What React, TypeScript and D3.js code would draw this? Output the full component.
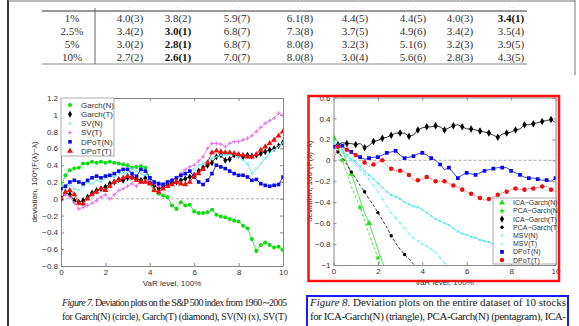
import React, { useRef, useEffect } from "react";
import * as d3 from "d3";

const W = 579;
const H = 326;

// ---- table at the top of the page ----
const tableRows = ["1%", "2.5%", "5%", "10%"];
const tableCells = [
  ["4.0(3)", "3.8(2)", "5.9(7)", "6.1(8)", "4.4(5)", "4.4(5)", "4.0(3)", "3.4(1)"],
  ["3.4(2)", "3.0(1)", "6.8(7)", "7.3(8)", "3.7(5)", "4.9(6)", "3.4(2)", "3.5(4)"],
  ["3.0(2)", "2.8(1)", "6.8(7)", "8.0(8)", "3.2(3)", "5.1(6)", "3.2(3)", "3.9(5)"],
  ["2.7(2)", "2.6(1)", "7.0(7)", "8.0(8)", "3.0(4)", "5.6(6)", "2.8(3)", "4.3(5)"],
];
const tableBold = [[7], [1], [1], [1]];

// ---- Figure 7 (S&P 500), values every 0.2 of VaR level ----
const garchN = [0.15, 0.28, 0.34, 0.36, 0.37, 0.42, 0.42, 0.44, 0.43, 0.44, 0.43, 0.44, 0.43, 0.42, 0.41, 0.4, 0.37, 0.38, 0.39, 0.37, 0.25, 0.1, 0.06, 0.04, 0.02, -0.08, -0.12, -0.04, -0.08, -0.07, -0.15, -0.17, -0.17, -0.16, -0.13, -0.19, -0.21, -0.22, -0.24, -0.26, -0.27, -0.32, -0.35, -0.48, -0.62, -0.55, -0.52, -0.55, -0.58, -0.57, -0.61];
const garchT = [0.0, 0.07, 0.05, -0.02, -0.04, -0.02, 0.02, 0.07, 0.1, 0.12, 0.14, 0.18, 0.2, 0.23, 0.22, 0.25, 0.26, 0.24, 0.22, 0.25, 0.2, 0.16, 0.12, 0.14, 0.17, 0.19, 0.2, 0.22, 0.24, 0.26, 0.28, 0.33, 0.37, 0.4, 0.43, 0.5, 0.52, 0.46, 0.47, 0.52, 0.52, 0.5, 0.52, 0.51, 0.52, 0.54, 0.56, 0.58, 0.6, 0.63, 0.67];
const svN = [0.15, 0.12, 0.17, 0.12, 0.1, 0.15, 0.2, 0.18, 0.22, 0.2, 0.25, 0.27, 0.26, 0.3, 0.31, 0.3, 0.35, 0.33, 0.3, 0.28, 0.25, 0.2, 0.2, 0.18, 0.2, 0.22, 0.25, 0.26, 0.3, 0.32, 0.35, 0.4, 0.42, 0.45, 0.48, 0.5, 0.52, 0.52, 0.53, 0.53, 0.5, 0.46, 0.42, 0.3, 0.36, 0.42, 0.48, 0.54, 0.58, 0.62, 0.67];
const svT = [0.0, 0.05, 0.02, -0.05, -0.12, -0.1, -0.08, -0.05, -0.02, 0.02, 0.05, 0.0, 0.05, 0.1, 0.12, 0.15, 0.18, 0.15, 0.2, 0.2, 0.22, 0.18, 0.15, 0.18, 0.2, 0.22, 0.25, 0.3, 0.35, 0.38, 0.4, 0.45, 0.5, 0.6, 0.66, 0.66, 0.65, 0.62, 0.66, 0.68, 0.68, 0.7, 0.72, 0.75, 0.8, 0.85, 0.9, 0.93, 0.96, 1.02, 0.99];
const dpotN = [0.12, 0.15, 0.2, 0.22, 0.2, 0.18, 0.22, 0.25, 0.27, 0.25, 0.27, 0.28, 0.3, 0.33, 0.35, 0.35, 0.3, 0.27, 0.35, 0.33, 0.25, 0.2, 0.18, 0.17, 0.2, 0.22, 0.25, 0.28, 0.3, 0.33, 0.26, 0.2, 0.17, 0.22, 0.3, 0.4, 0.38, 0.36, 0.33, 0.3, 0.28, 0.28, 0.26, 0.22, 0.23, 0.18, 0.16, 0.15, 0.16, 0.17, 0.26];
const dpotT = [0.0, 0.08, 0.1, 0.05, -0.05, -0.06, 0.0, 0.05, 0.08, 0.12, 0.1, 0.15, 0.2, 0.22, 0.25, 0.27, 0.25, 0.22, 0.2, 0.2, 0.18, 0.1, 0.08, 0.12, 0.15, 0.17, 0.2, 0.18, 0.17, 0.2, 0.27, 0.3, 0.35, 0.43, 0.55, 0.57, 0.56, 0.55, 0.55, 0.54, 0.53, 0.52, 0.5, 0.5, 0.53, 0.58, 0.62, 0.66, 0.7, 0.75, 0.8];

// ---- Figure 8 (10 stocks) ----
const icaGarchN = [0.22, 0.18, 0.1, -0.02, -0.13, -0.25, -0.38, -0.5, -0.6, -0.72, -0.85, -0.97, -1.08];
const pcaGarchN = [0.2, 0.12, 0.0, -0.12, -0.25, -0.35, -0.45, -0.58, -0.7, -0.82, -0.93, -1.05];
const icaGarchT = [0.13, 0.15, 0.17, 0.16, 0.16, 0.15, 0.16, 0.12, 0.14, 0.18, 0.19, 0.21, 0.22, 0.24, 0.26, 0.26, 0.26, 0.23, 0.24, 0.29, 0.31, 0.32, 0.32, 0.33, 0.32, 0.29, 0.31, 0.33, 0.34, 0.32, 0.3, 0.3, 0.29, 0.28, 0.27, 0.26, 0.24, 0.22, 0.25, 0.26, 0.27, 0.29, 0.3, 0.34, 0.34, 0.35, 0.36, 0.37, 0.38, 0.39, 0.36];
const pcaGarchT = [0.13, 0.08, 0.03, -0.04, -0.11, -0.17, -0.24, -0.3, -0.37, -0.43, -0.5, -0.57, -0.64, -0.72, -0.79, -0.85, -0.9, -0.94, -0.99, -1.04];
const msvN = [0.18, 0.15, 0.1, 0.05, 0.01, -0.02, -0.06, -0.1, -0.14, -0.18, -0.22, -0.26, -0.3, -0.33, -0.35, -0.37, -0.4, -0.42, -0.44, -0.45, -0.47, -0.5, -0.53, -0.56, -0.58, -0.6, -0.62, -0.65, -0.68, -0.7, -0.71, -0.73, -0.74, -0.76, -0.77, -0.78, -0.8, -0.81, -0.82, -0.84, -0.85, -0.86, -0.87, -0.89, -0.91, -0.92, -0.94, -0.95, -0.97, -0.98, -0.99];
const msvT = [0.17, 0.12, 0.08, 0.04, 0.0, -0.04, -0.09, -0.13, -0.18, -0.24, -0.3, -0.37, -0.44, -0.5, -0.55, -0.6, -0.65, -0.7, -0.74, -0.77, -0.8, -0.82, -0.85, -0.88, -0.93, -0.98, -1.02];
const dpotN8 = [0.13, 0.15, 0.14, 0.1, 0.08, 0.05, 0.03, 0.01, 0.02, 0.03, 0.03, 0.05, 0.07, 0.08, 0.09, 0.05, 0.02, 0.03, 0.04, 0.06, 0.07, 0.05, 0.02, 0.0, -0.04, -0.09, -0.07, -0.12, -0.17, -0.14, -0.12, -0.13, -0.14, -0.12, -0.1, -0.09, -0.08, -0.07, -0.07, -0.07, -0.1, -0.12, -0.14, -0.16, -0.17, -0.17, -0.18, -0.19, -0.19, -0.2, -0.17];
const dpotT8 = [0.0, 0.13, 0.12, 0.1, 0.08, 0.05, 0.02, -0.02, -0.06, -0.04, -0.02, 0.0, -0.05, -0.08, -0.1, -0.1, -0.11, -0.14, -0.19, -0.19, -0.18, -0.16, -0.18, -0.2, -0.2, -0.2, -0.22, -0.24, -0.26, -0.28, -0.3, -0.32, -0.34, -0.36, -0.38, -0.37, -0.35, -0.33, -0.31, -0.3, -0.28, -0.27, -0.28, -0.28, -0.27, -0.27, -0.26, -0.25, -0.25, -0.28, -0.3];

const STEP = 0.2;
const xTickValues = [0, 2, 4, 6, 8, 10];

const fig7Series = [
  { name: "Garch(N)", values: garchN, color: "#10dd10", marker: "circle", size: 13 },
  { name: "Garch(T)", values: garchT, color: "#000000", marker: "diamond", size: 14 },
  { name: "SV(N)", values: svN, color: "#5ee8f0", marker: "x", size: 1.4 },
  { name: "SV(T)", values: svT, color: "#e070e0", marker: "plus", size: 1.7 },
  { name: "DPoT(N)", values: dpotN, color: "#0a0aee", marker: "square", size: 13 },
  { name: "DPoT(T)", values: dpotT, color: "#ee1010", marker: "triangle", size: 15 },
];

const fig8Series = [
  { name: "ICA\u2212Garch(N)", values: icaGarchN, color: "#22dd22", marker: "triangle", size: 16, every: 4, offset: 0, dash: null },
  { name: "PCA\u2212Garch(N)", values: pcaGarchN, color: "#22dd22", marker: "star", size: 12, every: 4, offset: 2, dash: "3,2" },
  { name: "ICA\u2212Garch(T)", values: icaGarchT, color: "#000000", marker: "diamond", size: 16, every: 2, offset: 1, dash: null },
  { name: "PCA\u2212Garch(T)", values: pcaGarchT, color: "#000000", marker: "circle", size: 9, every: 3, offset: 1, dash: "3,2" },
  { name: "MSV(N)", values: msvN, color: "#44e4ee", marker: "x", size: 1.1, every: 1, offset: 0, dash: null },
  { name: "MSV(T)", values: msvT, color: "#6ceef4", marker: "x", size: 1.1, every: 1, offset: 0, dash: "2,1" },
  { name: "DPoT(N)", values: dpotN8, color: "#0a0aee", marker: "square", size: 14, every: 2, offset: 0, dash: null },
  { name: "DPoT(T)", values: dpotT8, color: "#ee1010", marker: "circle", size: 16, every: 2, offset: 1, dash: "1,1" },
];

const sans = "Liberation Sans, Arial, sans-serif";
const serif = "Liberation Serif, Times New Roman, serif";

const symbolFor = (kind, size) => {
  if (kind === "x") return `M${-size},${-size}L${size},${size}M${-size},${size}L${size},${-size}`;
  if (kind === "plus") return `M${-size * 1.2},0H${size * 1.2}M0,${-size * 1.2}V${size * 1.2}`;
  const types = {
    circle: d3.symbolCircle,
    diamond: d3.symbolDiamond,
    square: d3.symbolSquare,
    triangle: d3.symbolTriangle,
    star: d3.symbolStar,
  };
  return d3.symbol(types[kind], size)();
};

const drawMarker = (sel, kind, size, color) => {
  const stroked = kind === "x" || kind === "plus";
  sel
    .append("path")
    .attr("d", symbolFor(kind, size))
    .attr("fill", stroked ? "none" : color)
    .attr("stroke", stroked ? color : "none")
    .attr("stroke-width", 0.9);
};

const fmtTick = (d) => {
  const v = Math.round(d * 10) / 10;
  return v < 0 ? "\u2212" + String(-v) : String(v);
};

// MATLAB-like box with inward ticks on all four sides
const drawAxes = (svg, box, x, y, yTicks, id) => {
  const g = svg.append("g").attr("class", "axes");
  const styleAxis = (a) => {
    a.select(".domain").attr("stroke", "#888");
    a.selectAll("line").attr("stroke", "#888");
    a.selectAll("text").attr("fill", "#333").attr("font-size", 8).attr("font-family", sans);
  };
  g.append("g")
    .attr("transform", `translate(0,${box.y1})`)
    .call(d3.axisBottom(x).tickValues(xTickValues).tickSizeInner(-3).tickSizeOuter(0).tickPadding(3).tickFormat(d3.format("d")))
    .call(styleAxis);
  g.append("g")
    .attr("transform", `translate(0,${box.y0})`)
    .call(d3.axisTop(x).tickValues(xTickValues).tickSizeInner(-3).tickSizeOuter(0).tickFormat(() => ""))
    .call(styleAxis);
  g.append("g")
    .attr("transform", `translate(${box.x0},0)`)
    .call(d3.axisLeft(y).tickValues(yTicks).tickSizeInner(-3).tickSizeOuter(0).tickPadding(3).tickFormat(fmtTick))
    .call(styleAxis);
  g.append("g")
    .attr("transform", `translate(${box.x1},0)`)
    .call(d3.axisRight(y).tickValues(yTicks).tickSizeInner(-3).tickSizeOuter(0).tickFormat(() => ""))
    .call(styleAxis);

  svg
    .append("defs")
    .append("clipPath")
    .attr("id", id)
    .append("rect")
    .attr("x", box.x0)
    .attr("y", box.y0)
    .attr("width", box.x1 - box.x0)
    .attr("height", box.y1 - box.y0);

  // zero reference line
  svg
    .append("line")
    .attr("x1", box.x0)
    .attr("x2", box.x1)
    .attr("y1", y(0))
    .attr("y2", y(0))
    .attr("stroke", "#999")
    .attr("stroke-dasharray", "3,2")
    .attr("stroke-width", 0.8);
};

const drawTitles = (svg, box, ylabX) => {
  svg
    .append("text")
    .attr("class", "xlabel")
    .attr("x", (box.x0 + box.x1) / 2)
    .attr("y", box.y1 + 20)
    .attr("text-anchor", "middle")
    .attr("font-size", 8)
    .attr("font-family", sans)
    .attr("fill", "#333")
    .text("VaR level, 100%");
  svg
    .append("text")
    .attr("class", "ylabel")
    .attr("transform", `translate(${ylabX},${(box.y0 + box.y1) / 2}) rotate(-90)`)
    .attr("text-anchor", "middle")
    .attr("font-size", 8)
    .attr("font-family", sans)
    .attr("fill", "#333")
    .text("deviation, 100*(F(\u03bb)\u2212\u03bb)");
};

const drawLegend = (svg, items, lx, ly, lw, lh, rowStart, rowStep, fontSize) => {
  const g = svg.append("g").attr("class", "legend");
  g.append("rect")
    .attr("x", lx)
    .attr("y", ly)
    .attr("width", lw)
    .attr("height", lh)
    .attr("fill", "#fff")
    .attr("stroke", "#999")
    .attr("stroke-width", 0.8);
  items.forEach((s, i) => {
    const cy = rowStart + i * rowStep;
    const m = g.append("g").attr("transform", `translate(${lx + 9},${cy})`);
    drawMarker(m, s.marker, s.size, s.color);
    g.append("text")
      .attr("x", lx + 20)
      .attr("y", cy)
      .attr("dy", "0.35em")
      .attr("font-size", fontSize)
      .attr("font-family", sans)
      .attr("fill", "#333")
      .text(s.name);
  });
};

const App = () => {
  const svgRef = useRef(null);

  useEffect(() => {
    const svg = d3.select(svgRef.current);
    svg.selectAll("*").remove();

    // page frame
    svg.append("line").attr("x1", 8).attr("x2", 8).attr("y1", 0).attr("y2", H).attr("stroke", "#333").attr("stroke-width", 2);
    svg.append("line").attr("x1", 8).attr("x2", 575).attr("y1", 1).attr("y2", 1).attr("stroke", "#777").attr("stroke-width", 1);
    svg.append("line").attr("x1", 575).attr("x2", 575).attr("y1", 0).attr("y2", 75).attr("stroke", "#777").attr("stroke-width", 1);

    // ---- table ----
    const colX = [72, 130, 178, 237, 300, 355, 413, 460, 511];
    const rowY = [18, 31, 44, 57];
    const tg = svg.append("g").attr("class", "table");
    tg.append("line").attr("x1", 42).attr("x2", 527).attr("y1", 11).attr("y2", 11).attr("stroke", "#999").attr("stroke-width", 2);
    tg.append("line").attr("x1", 42).attr("x2", 527).attr("y1", 64).attr("y2", 64).attr("stroke", "#888").attr("stroke-width", 1);
    tg.append("line").attr("x1", 95).attr("x2", 95).attr("y1", 8).attr("y2", 64).attr("stroke", "#666").attr("stroke-width", 1);
    colX.slice(1).forEach((cx) => {
      tg.append("text").attr("x", cx).attr("y", 8).attr("text-anchor", "middle").attr("font-size", 7).attr("fill", "#bbb").text(". .");
    });
    tableRows.forEach((r, i) => {
      tg.append("text")
        .attr("x", colX[0])
        .attr("y", rowY[i])
        .attr("dy", "0.35em")
        .attr("text-anchor", "middle")
        .attr("font-size", 11)
        .attr("font-family", serif)
        .attr("fill", "#333")
        .text(r);
      tableCells[i].forEach((c, j) => {
        const bold = tableBold[i].includes(j);
        tg.append("text")
          .attr("x", colX[j + 1])
          .attr("y", rowY[i])
          .attr("dy", "0.35em")
          .attr("text-anchor", "middle")
          .attr("font-size", 11)
          .attr("font-family", serif)
          .attr("font-weight", bold ? "bold" : "normal")
          .attr("fill", bold ? "#111" : "#333")
          .text(c);
      });
    });

    // ---- Figure 7 ----
    const boxL = { x0: 61, x1: 283, y0: 98, y1: 266 };
    const xL = d3.scaleLinear().domain([0, 10]).range([boxL.x0, boxL.x1]);
    const yL = d3.scaleLinear().domain([-0.8, 1.2]).range([boxL.y1, boxL.y0]);
    drawAxes(svg, boxL, xL, yL, d3.range(-0.8, 1.21, 0.2), "clipL");

    const lineL = d3
      .line()
      .x((d, i) => xL(i * STEP))
      .y((d) => yL(d));
    const seriesL = svg.append("g").attr("clip-path", "url(#clipL)");
    fig7Series.forEach((s) => {
      seriesL.append("path").attr("d", lineL(s.values)).attr("fill", "none").attr("stroke", s.color).attr("stroke-width", 0.8);
      s.values.forEach((v, i) => {
        const m = seriesL.append("g").attr("transform", `translate(${xL(i * STEP)},${yL(v)})`);
        drawMarker(m, s.marker, s.size, s.color);
      });
    });
    drawLegend(svg, fig7Series, boxL.x0, boxL.y0, 53, 58, 105, 9.2, 8);
    drawTitles(svg, boxL, 37);

    // ---- Figure 8 ----
    const boxR = { x0: 333.5, x1: 555.5, y0: 97.5, y1: 265 };
    const xR = d3.scaleLinear().domain([0, 10]).range([boxR.x0, boxR.x1]);
    const yR = d3.scaleLinear().domain([-1, 0.6]).range([boxR.y1, boxR.y0]);
    drawAxes(svg, boxR, xR, yR, d3.range(-1, 0.61, 0.2), "clipR");

    const lineR = d3
      .line()
      .x((d, i) => xR(i * STEP))
      .y((d) => yR(d));
    const seriesR = svg.append("g").attr("clip-path", "url(#clipR)");
    fig8Series.forEach((s) => {
      seriesR
        .append("path")
        .attr("d", lineR(s.values))
        .attr("fill", "none")
        .attr("stroke", s.color)
        .attr("stroke-width", 0.8)
        .attr("stroke-dasharray", s.dash);
      s.values.forEach((v, i) => {
        if (i < s.offset || (i - s.offset) % s.every !== 0) return;
        const m = seriesR.append("g").attr("transform", `translate(${xR(i * STEP)},${yR(v)})`);
        drawMarker(m, s.marker, s.size, s.color);
      });
    });
    drawLegend(svg, fig8Series, 493, 198, 63, 66, 202.7, 8.2, 7);
    drawTitles(svg, boxR, 312);

    // red highlight frame
    svg.append("rect").attr("x", 308.5).attr("y", 96).attr("width", 250.5).attr("height", 185).attr("fill", "none").attr("stroke", "#ff1010").attr("stroke-width", 2.5);

    // ---- captions ----
    const cap = (x, yy, len, size, parts) => {
      const t = svg
        .append("text")
        .attr("x", x)
        .attr("y", yy)
        .attr("font-size", size)
        .attr("font-family", serif)
        .attr("fill", "#222")
        .attr("textLength", len)
        .attr("lengthAdjust", "spacing");
      parts.forEach(([txt, italic]) => {
        t.append("tspan").attr("font-style", italic ? "italic" : "normal").text(txt);
      });
    };
    cap(62, 306, 225, 10, [["Figure 7", true], [". Deviation plots on the S&P 500 index from 1960\u223c2005", false]]);
    cap(62, 320, 225, 10, [["for Garch(N) (circle), Garch(T) (diamond), SV(N) (x), SV(T)", false]]);
    cap(310, 306, 256, 11, [["Figure 8", true], [". Deviation plots on the entire dataset of 10 stocks", false]]);
    cap(310, 320, 256, 11, [["for ICA-Garch(N) (triangle), PCA-Garch(N) (pentagram), ICA-", false]]);

    svg.append("rect").attr("x", 307).attr("y", 296).attr("width", 261).attr("height", 40).attr("fill", "none").attr("stroke", "#1a1aff").attr("stroke-width", 2);
  }, []);

  return (
    <svg
      ref={svgRef}
      width={W}
      height={H}
      style={{ position: "absolute", left: 0, top: 0, background: "#fff" }}
    ></svg>
  );
};

export default App;
